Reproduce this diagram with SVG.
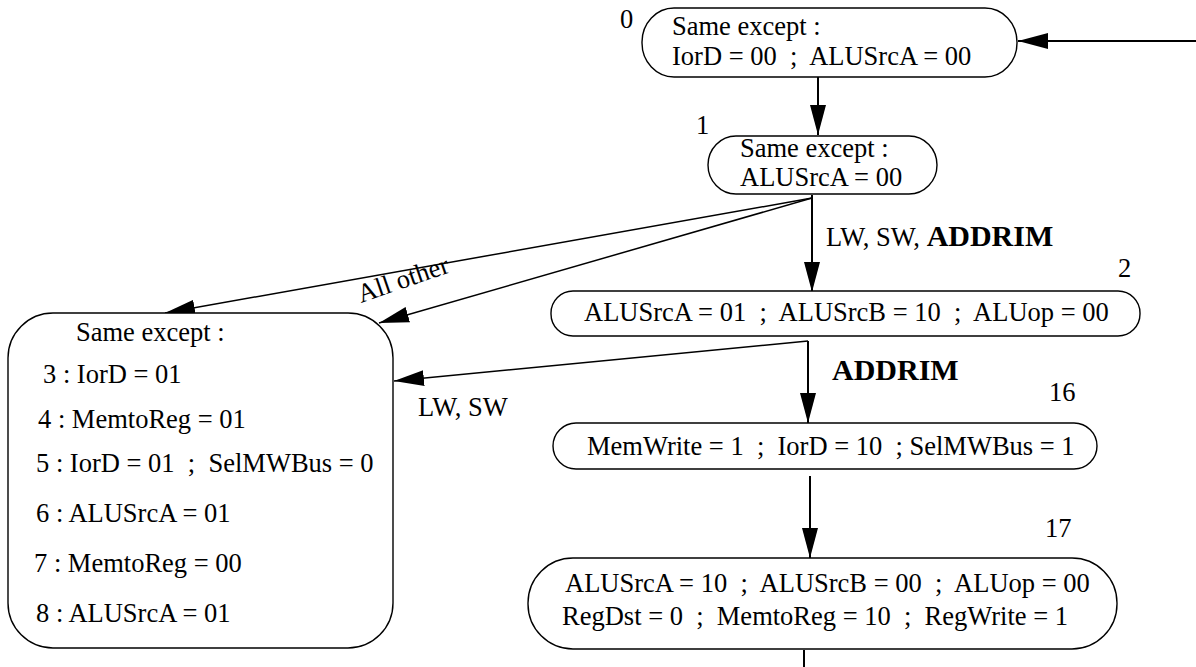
<svg xmlns="http://www.w3.org/2000/svg" width="1196" height="667" viewBox="0 0 1196 667" xml:space="preserve">
<style>
text{font-family:"Liberation Serif","Times New Roman",serif;font-size:26.5px;fill:#000;white-space:pre}
.b{font-weight:bold;font-size:30px}
.node{fill:#fff;stroke:#000;stroke-width:1.4}
.c{stroke:#000;fill:none}
.v{stroke-width:2}
.d{stroke-width:1.5}
</style>
<defs>
<marker id="ah" markerUnits="userSpaceOnUse" markerWidth="30" markerHeight="16" refX="30" refY="8" orient="auto" viewBox="0 0 30 16">
<path d="M0,0 L30,8 L0,16 z" fill="#000"/>
</marker>
</defs>
<rect width="1196" height="667" fill="#fff"/>
<g id="connectors">
<line class="c v" x1="1196" y1="41" x2="1018" y2="41" marker-end="url(#ah)"/>
<line class="c v" x1="818" y1="77" x2="818" y2="135" marker-end="url(#ah)"/>
<line class="c v" x1="812" y1="195" x2="812" y2="292" marker-end="url(#ah)"/>
<line class="c d" x1="812" y1="198" x2="165" y2="313" marker-end="url(#ah)"/>
<line class="c d" x1="812" y1="198" x2="379" y2="323" marker-end="url(#ah)"/>
<line class="c v" x1="808" y1="341" x2="808" y2="423" marker-end="url(#ah)"/>
<line class="c d" x1="808" y1="341" x2="394" y2="381" marker-end="url(#ah)"/>
<line class="c v" x1="810" y1="476" x2="810" y2="558" marker-end="url(#ah)"/>
<line class="c v" x1="804" y1="650" x2="804" y2="667"/>
<text x="0" y="0" transform="translate(361,303) rotate(-19)">All other</text>
<text x="826" y="246">LW, SW, <tspan class="b">ADDRIM</tspan></text>
<text x="832" y="380" class="b">ADDRIM</text>
<text x="418" y="416">LW, SW</text>
</g>
<g id="node0">
<rect class="node" x="642" y="8" width="375" height="69" rx="32" ry="34"/>
<text x="620" y="28">0</text>
<text x="672" y="35">Same except :</text>
<text x="672" y="65">IorD = 00  ;  ALUSrcA = 00</text>
</g>
<g id="node1">
<rect class="node" x="708" y="136" width="229" height="58" rx="28" ry="29"/>
<text x="696" y="134">1</text>
<text x="740" y="157">Same except :</text>
<text x="740" y="186">ALUSrcA = 00</text>
</g>
<g id="node2">
<rect class="node" x="551" y="291" width="589" height="45" rx="22" ry="22"/>
<text x="1118" y="277">2</text>
<text x="584" y="321">ALUSrcA = 01  ;  ALUSrcB = 10  ;  ALUop = 00</text>
</g>
<g id="node3to8">
<rect class="node" x="8" y="313" width="385" height="335" rx="45" ry="45"/>
<text x="76" y="341">Same except :</text>
<text x="43" y="383">3 : IorD = 01</text>
<text x="38" y="428">4 : MemtoReg = 01</text>
<text x="36" y="472">5 : IorD = 01  ;  SelMWBus = 0</text>
<text x="36" y="522">6 : ALUSrcA = 01</text>
<text x="34" y="572">7 : MemtoReg = 00</text>
<text x="36" y="622">8 : ALUSrcA = 01</text>
</g>
<g id="node16">
<rect class="node" x="553" y="423" width="544" height="46" rx="23" ry="23"/>
<text x="1049" y="401">16</text>
<text x="587" y="455">MemWrite = 1  ;  IorD = 10  ; SelMWBus = 1</text>
</g>
<g id="node17">
<rect class="node" x="528" y="558" width="589" height="91" rx="45" ry="45"/>
<text x="1045" y="537">17</text>
<text x="565" y="592">ALUSrcA = 10  ;  ALUSrcB = 00  ;  ALUop = 00</text>
<text x="562" y="625">RegDst = 0  ;  MemtoReg = 10  ;  RegWrite = 1</text>
</g>
</svg>
